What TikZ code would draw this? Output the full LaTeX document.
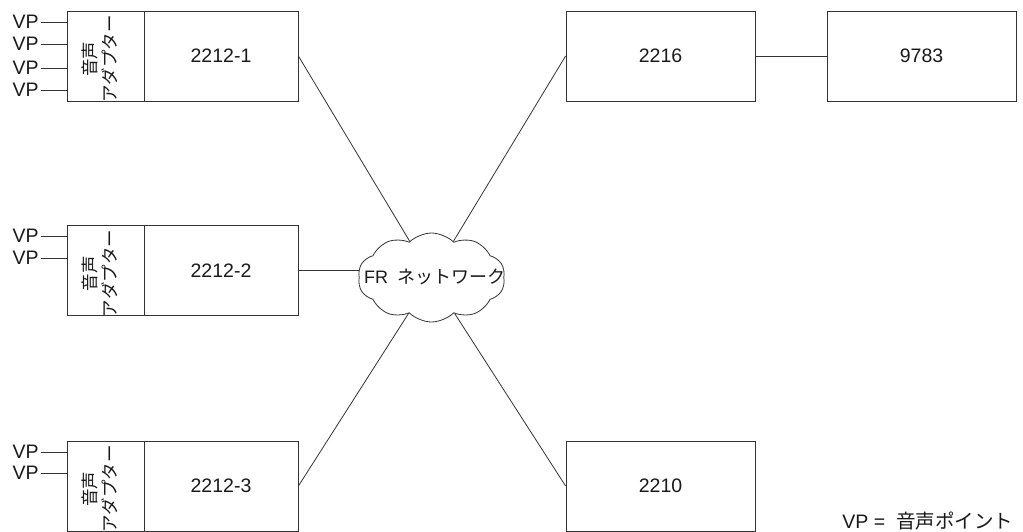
\documentclass[tikz,border=0pt]{standalone}
\usepackage{fontspec}
\setmainfont{Liberation Sans}
\newfontfamily\jp{Noto Sans CJK JP}
\usetikzlibrary{shapes.symbols}
\begin{document}
\begin{tikzpicture}[x=1pt,y=-1pt, line width=0.8pt,
  lbl/.style={font=\fontsize{19.5}{23}\selectfont, text=black!90},
  adbox/.style={draw=black!80, minimum width=77pt, minimum height=90pt, inner sep=0pt},
  devbox/.style={draw=black!80, minimum width=154pt, minimum height=90pt, inner sep=0pt, lbl},
  rbox/.style={draw=black!80, minimum width=189pt, minimum height=90pt, inner sep=0pt, lbl},
  vp/.style={lbl, anchor=east, inner sep=2pt},
  adtext/.style={rotate=90, align=center, font=\jp\fontsize{17.5}{20}\selectfont, text=black!90, inner sep=0pt},
  conn/.style={line width=0.8pt, draw=black!80}
]
\useasboundingbox (0,0) rectangle (1023,531);
\clip (0,0) rectangle (1023,531);

% left column boxes
\node[adbox] (ad1) at (105.5,56) {};
\node[devbox] (dev1) at (221,56) {2212-1};
\node[adbox] (ad2) at (105.5,270.5) {};
\node[devbox] (dev2) at (221,270.5) {2212-2};
\node[adbox] (ad3) at (105.5,486) {};
\node[devbox] (dev3) at (221,486) {2212-3};

\node[adtext] (at1) at ([xshift=-6pt,yshift=-3pt]ad1.center) {音声\\アダプター};
\node[adtext] (at2) at ([xshift=-6pt,yshift=-3pt]ad2.center) {音声\\アダプター};
\node[adtext] (at3) at ([xshift=-6pt,yshift=-3pt]ad3.center) {音声\\アダプター};

% VP labels
\node[vp] (vp11) at (41,22) {VP};
\node[vp] (vp12) at (41,44) {VP};
\node[vp] (vp13) at (41,68) {VP};
\node[vp] (vp14) at (41,90) {VP};
\node[vp] (vp21) at (41,236) {VP};
\node[vp] (vp22) at (41,258) {VP};
\node[vp] (vp31) at (41,452) {VP};
\node[vp] (vp32) at (41,473) {VP};
\foreach \v/\a in {vp11/ad1,vp12/ad1,vp13/ad1,vp14/ad1,vp21/ad2,vp22/ad2,vp31/ad3,vp32/ad3}
  \draw[conn] (\v.east) -- (\v.east -| \a.west);

% right boxes
\node[rbox] (b2216) at (660.5,56) {2216};
\node[rbox] (b9783) at (921.5,56) {9783};
\node[rbox] (b2210) at (660.5,486) {2210};

% cloud
\node[cloud, draw=black!80, cloud puffs=10, cloud puff arc=90, minimum width=147pt, minimum height=89pt, inner sep=0pt] (net) at (431.5,277.5) {};
\node[lbl, font=\fontsize{18}{22}\selectfont, inner sep=0pt] (nettext) at (434.5,277) {FR\hspace{9pt}{\jp ネットワーク}};

% connectors
\draw[conn] (dev1.east) -- (net);
\draw[conn] (b2216.west) -- (net);
\draw[conn] (dev3.east) -- (net);
\draw[conn] (b2210.west) -- (net);
\draw[conn] (dev2.east) -- (dev2.east -| net.west);
\draw[conn] (b2216.east) -- (b9783.west);

% legend
\node[lbl, anchor=west, inner sep=0pt] (legend) at (842,521) {VP = \ {\jp 音声ポイント}};
\end{tikzpicture}
\end{document}
